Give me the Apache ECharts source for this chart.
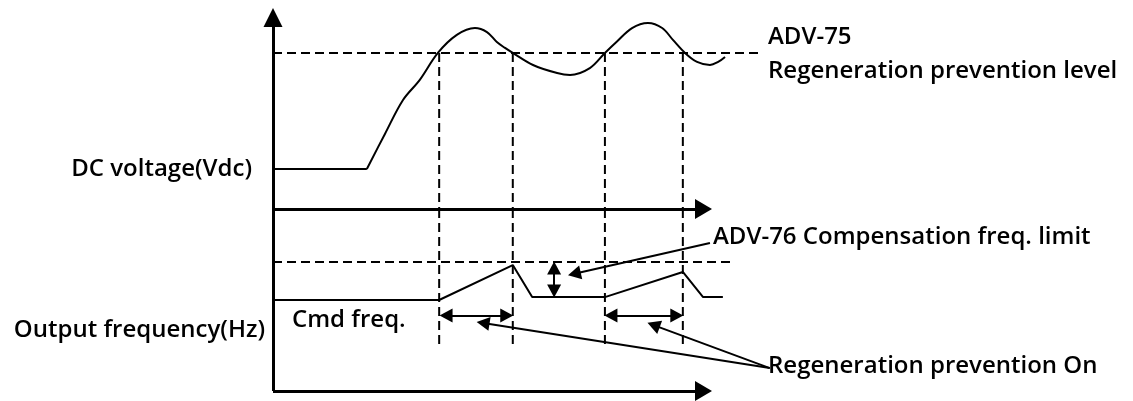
<!DOCTYPE html>
<html><head><meta charset="utf-8">
<script src="https://cdn.jsdelivr.net/npm/echarts@6/dist/echarts.min.js"></script>
<style>html,body{margin:0;padding:0;background:#fff}#c{width:1133px;height:401px}</style>
</head><body><div id="c"></div>
<script>
// ---- data (time units on x, relative level 0..100 on y) ----
const vdcFlat = [[0, 20.9], [21.8, 20.9]];
const vdcCurve = [[21.8, 20.9], [26.0, 39.2], [30.2, 56.9], [34.1, 67.4], [38.3, 81.5], [42.7, 90.9], [46.9, 94.5], [49.7, 92.4], [52.0, 87.2], [53.9, 84.1], [55.7, 81.5], [60.4, 75.2], [66.0, 71.0], [69.0, 70.0], [73.6, 73.6], [77.1, 81.5], [79.9, 87.5], [83.4, 94.5], [87.1, 97.1], [90.4, 94.5], [92.9, 88.3], [95.7, 81.5], [98.5, 76.8], [101.5, 75.2], [103.4, 76.8], [105.0, 79.4]];
const regenLevel = 81.5;
const regenLevelEnd = 113.6;
const onTimes = [38.6, 55.7, 77.1, 95.2];
const freqLine = [[0, 50.0], [38.6, 50.0], [55.7, 69.2], [60.2, 51.6], [77.1, 51.6], [95.2, 65.4], [99.9, 51.6], [104.5, 51.6]];
const compLimit = 70.9;
const compLimitEnd = 106.6;
const dashBottom = 25.3;
const onArrowLevel = 41.5;
const onArrows = [[40.2, 54.3], [78.5, 93.8]];
const compArrowT = 65.3;
const compArrow = [67.6, 54.9];
const compLeader = [[101.5, 81.3], [70.0, 64.4]];
const onLeaderStart = [115.4, 12.6];
const onLeaderTips = [[48.8, 37.4], [88.4, 36.2]];
const axisEnd = 100;
const labels = {
  vdc: 'DC voltage(Vdc)',
  freq: 'Output frequency(Hz)',
  cmd: 'Cmd freq.',
  adv75: 'ADV-75',
  level: 'Regeneration prevention level',
  adv76: 'ADV-76 Compensation freq. limit',
  on: 'Regeneration prevention On'
};

const FONT = '600 24px "Open Sans", "Liberation Sans", sans-serif';
const black = '#000';
const dash = { color: black, width: 2, type: [9, 5] };
const solid = { color: black, width: 2 };
const XMAX = 130;

function axisX(gi) {
  return { gridIndex: gi, type: 'value', min: 0, max: XMAX,
    axisLine: { show: false }, axisTick: { show: false }, axisLabel: { show: false }, splitLine: { show: false } };
}
function axisY(gi) {
  return { gridIndex: gi, type: 'value', min: 0, max: 100,
    axisLine: { show: false }, axisTick: { show: false }, axisLabel: { show: false }, splitLine: { show: false } };
}
function lineSeries(gi, data, style, smooth) {
  return { type: 'line', xAxisIndex: gi, yAxisIndex: gi, data: data, showSymbol: false, symbol: 'none',
    smooth: smooth || false, clip: false, lineStyle: style, silent: true, z: 3 };
}
function markLines(items) {
  return { silent: true, symbolSize: [14, 13], label: { show: false }, animation: false,
    lineStyle: { color: black, width: 2, type: 'solid' }, emphasis: { disabled: true }, data: items };
}
const AX = { color: black, width: 3, type: 'solid' };
function axisPair(from, to, arrow, size) {
  return [{ coord: from, symbol: 'none', lineStyle: AX },
          { coord: to, symbol: arrow ? 'triangle' : 'none', symbolSize: size }];
}

const series = [];
const topS = lineSeries(0, vdcFlat, solid);
topS.markLine = markLines([
  axisPair([0, 0], [axisEnd, 0], true, [20, 17]),
  axisPair([0, 0], [0, 100], true, [19, 19])
]);
series.push(topS);
series.push(lineSeries(0, vdcCurve, solid, 0.35));
series.push(lineSeries(0, [[0, regenLevel], [regenLevelEnd, regenLevel]], dash));
onTimes.forEach(t => {
  series.push(lineSeries(0, [[t, regenLevel], [t, 0]], dash));
  series.push(lineSeries(1, [[t, 100], [t, dashBottom]], dash));
});
series.push(lineSeries(1, [[0, compLimit], [compLimitEnd, compLimit]], dash));
const freqS = lineSeries(1, freqLine, solid);
const ml = [];
ml.push(axisPair([0, 0], [axisEnd, 0], true, [20, 17]));
ml.push(axisPair([0, 0], [0, 100], false, [19, 19]));
onArrows.forEach(a => ml.push([{ coord: [a[0], onArrowLevel], symbol: 'triangle' }, { coord: [a[1], onArrowLevel], symbol: 'triangle' }]));
ml.push([{ coord: [compArrowT, compArrow[0]], symbol: 'triangle' }, { coord: [compArrowT, compArrow[1]], symbol: 'triangle' }]);
ml.push([{ coord: compLeader[0], symbol: 'none' }, { coord: compLeader[1], symbol: 'triangle' }]);
onLeaderTips.forEach(p => ml.push([{ coord: onLeaderStart, symbol: 'none' }, { coord: p, symbol: 'triangle' }]));
freqS.markLine = markLines(ml);
series.push(freqS);

function txt(s, x, y, align) {
  return { type: 'text', x: x, y: y, silent: true, z: 10,
    style: { text: s, font: FONT, fill: black, textAlign: align || 'left', textVerticalAlign: 'middle' } };
}

const chart = echarts.init(document.getElementById('c'), null, { renderer: 'canvas' });
const W = 430.5 * XMAX / axisEnd;
chart.setOption({
  animation: false,
  backgroundColor: '#fff',
  grid: [
    { left: 273, top: 17.5, width: W, height: 191.5 },
    { left: 273, top: 209, width: W, height: 182 }
  ],
  xAxis: [axisX(0), axisX(1)],
  yAxis: [axisY(0), axisY(1)],
  series: series,
  graphic: [
    txt(labels.vdc, 252, 169, 'right'),
    txt(labels.freq, 265, 330, 'right'),
    txt(labels.cmd, 292, 320, 'left'),
    txt(labels.adv75, 768, 37, 'left'),
    txt(labels.level, 768, 71, 'left'),
    txt(labels.adv76, 713, 237, 'left'),
    txt(labels.on, 768, 366, 'left')
  ]
});
</script></body></html>
